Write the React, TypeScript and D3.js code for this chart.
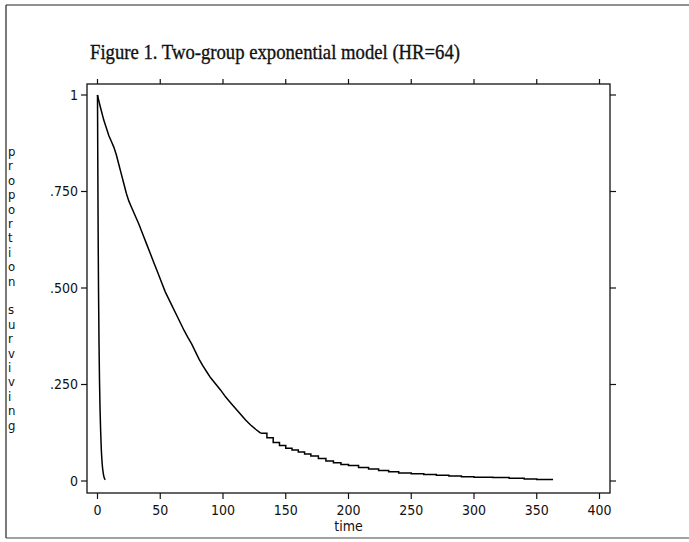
import React from "react";
import * as d3 from "d3";

const title = "Figure 1. Two-group exponential model (HR=64)";
const yLabel = "proportion surviving";
const xLabel = "time";
const xTicks = [0, 50, 100, 150, 200, 250, 300, 350, 400];
const yTicks = [0, 0.25, 0.5, 0.75, 1];
const yTickLabels = ["0", ".250", ".500", ".750", "1"];

// group 1 (slow) survival curve: time, proportion surviving
const g1Time = [0, 1, 3, 5, 7, 9, 11, 13, 15, 17, 19, 21, 23, 25, 27, 29, 31, 33, 36, 39, 42, 45, 48, 51, 54, 57, 60, 63, 66, 69, 72, 75, 78, 81, 84, 87, 90, 94, 98, 102, 106, 110, 114, 118, 122, 126, 130, 135, 140, 145, 150, 155, 160, 165, 170, 176, 182, 188, 194, 200, 208, 216, 224, 232, 240, 250, 260, 270, 280, 290, 300, 315, 328, 340, 350, 363];
const g1Surv = [1.0, 0.985, 0.96, 0.935, 0.915, 0.895, 0.88, 0.865, 0.845, 0.82, 0.795, 0.77, 0.745, 0.725, 0.71, 0.695, 0.68, 0.665, 0.64, 0.615, 0.59, 0.565, 0.54, 0.515, 0.49, 0.47, 0.45, 0.43, 0.41, 0.39, 0.372, 0.355, 0.335, 0.315, 0.298, 0.283, 0.268, 0.252, 0.236, 0.218, 0.203, 0.188, 0.173, 0.158, 0.145, 0.134, 0.124, 0.112, 0.1, 0.092, 0.085, 0.08, 0.075, 0.07, 0.065, 0.058, 0.052, 0.047, 0.043, 0.04, 0.035, 0.031, 0.027, 0.024, 0.021, 0.019, 0.017, 0.015, 0.013, 0.011, 0.01, 0.009, 0.007, 0.005, 0.004, 0.004];

// group 2 (fast) survival curve
const g2Time = [0, 0.2, 0.5, 0.8, 1.2, 1.6, 2.0, 2.5, 3.0, 3.5, 4.0, 4.6, 5.2, 6.2];
const g2Surv = [1.0, 0.85, 0.65, 0.5, 0.36, 0.26, 0.19, 0.13, 0.085, 0.055, 0.035, 0.02, 0.01, 0.003];

const W = 689;
const H = 542;
const frame = { left: 87, right: 610, top: 84, bottom: 493 };

export default function App() {
  const x = d3.scaleLinear().domain([0, 400]).range([97.5, 599.5]);
  const y = d3.scaleLinear().domain([0, 1]).range([481, 95]);

  const g1 = g1Time.map((t, i) => [t, g1Surv[i]] as [number, number]);
  const g2 = g2Time.map((t, i) => [t, g2Surv[i]] as [number, number]);
  const g1Head = g1.filter((d) => d[0] <= 130);
  const g1Tail = g1.filter((d) => d[0] >= 130);

  const line1 = d3
    .line<[number, number]>()
    .x((d) => x(d[0]))
    .y((d) => y(d[1]))
    .curve(d3.curveLinear);
  const step1 = d3
    .line<[number, number]>()
    .x((d) => x(d[0]))
    .y((d) => y(d[1]))
    .curve(d3.curveStepAfter);
  const line2 = d3
    .line<[number, number]>()
    .x((d) => x(d[0]))
    .y((d) => y(d[1]))
    .curve(d3.curveMonotoneX);

  const tickFont = "'Liberation Sans Narrow', 'DejaVu Sans Condensed', 'Liberation Sans', sans-serif";
  const letters = yLabel.split("");

  return (
    <svg
      width={W}
      height={H}
      viewBox={`0 0 ${W} ${H}`}
      style={{ position: "absolute", left: 0, top: 0, background: "#fff" }}
    >
      <rect x={0} y={0} width={W} height={H} fill="#fff" />
      {/* outer border (scanned page frame) */}
      <line x1={6} y1={5} x2={W} y2={5} stroke="#222" strokeWidth={1.2} />
      <line x1={6} y1={5} x2={6} y2={538} stroke="#222" strokeWidth={1.2} />
      <line x1={6} y1={538} x2={W} y2={538} stroke="#444" strokeWidth={1.2} />

      {/* title */}
      <text
        x={90}
        y={59}
        fontFamily="'Liberation Serif', 'Times New Roman', serif"
        fontSize={21}
        textLength={370}
        lengthAdjust="spacingAndGlyphs"
        fill="#111"
        stroke="#111"
        strokeWidth={0.35}
      >
        {title}
      </text>

      {/* plot frame */}
      <rect
        x={frame.left}
        y={frame.top}
        width={frame.right - frame.left}
        height={frame.bottom - frame.top}
        fill="none"
        stroke="#111"
        strokeWidth={1.3}
      />

      {/* y ticks left and right */}
      {yTicks.map((v, i) => (
        <g key={"y" + i}>
          <line x1={frame.left - 6} x2={frame.left} y1={y(v)} y2={y(v)} stroke="#111" strokeWidth={1.2} />
          <line x1={frame.right} x2={frame.right + 6} y1={y(v)} y2={y(v)} stroke="#111" strokeWidth={1.2} />
          <text
            x={frame.left - 9}
            y={y(v)}
            dy="0.35em"
            textAnchor="end"
            fontFamily={tickFont}
            fontSize={14}
            fill="#111"
          >
            {yTickLabels[i]}
          </text>
        </g>
      ))}

      {/* x ticks bottom and top */}
      {xTicks.map((t) => (
        <g key={"x" + t}>
          <line x1={x(t)} x2={x(t)} y1={frame.bottom} y2={frame.bottom + 6} stroke="#111" strokeWidth={1.2} />
          <line x1={x(t)} x2={x(t)} y1={frame.top - 5} y2={frame.top} stroke="#111" strokeWidth={1.2} />
          <text
            x={x(t)}
            y={515}
            textAnchor="middle"
            fontFamily={tickFont}
            fontSize={14}
            fill="#111"
          >
            {t}
          </text>
        </g>
      ))}

      {/* x label */}
      <text x={x(200)} y={531} textAnchor="middle" fontFamily={tickFont} fontSize={14} fill="#111">
        {xLabel}
      </text>

      {/* y label: stacked letters */}
      <text fontFamily={tickFont} fontSize={13} fill="#111">
        {letters.map((c, i) => (
          <tspan key={i} x={8} y={156 + i * 14.4}>
            {c === " " ? "\u00a0" : c}
          </tspan>
        ))}
      </text>

      {/* curves */}
      <path d={line1(g1Head) || ""} fill="none" stroke="#000" strokeWidth={1.5} />
      <path d={step1(g1Tail) || ""} fill="none" stroke="#000" strokeWidth={1.5} />
      <path d={line2(g2) || ""} fill="none" stroke="#000" strokeWidth={1.5} />
    </svg>
  );
}
